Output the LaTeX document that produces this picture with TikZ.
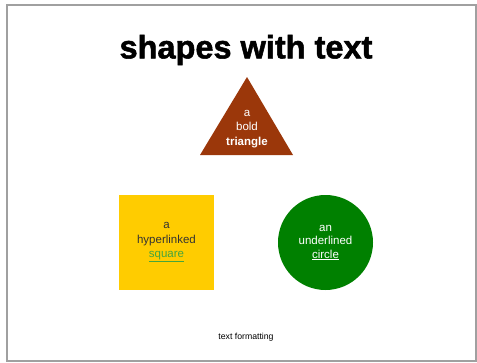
\documentclass[tikz,border=0pt]{standalone}
\usepackage{fontspec}
\setmainfont{Liberation Sans}
\newfontfamily\heavyfont[FakeBold=1.6]{Liberation Sans Bold}
\definecolor{brickbrown}{RGB}{155,55,10}
\definecolor{goldyellow}{RGB}{255,204,0}
\definecolor{darkgreen}{RGB}{0,128,0}
\definecolor{linkgreen}{RGB}{70,165,60}
\definecolor{framegray}{RGB}{160,160,160}

\begin{document}
\begin{tikzpicture}
[
	x=1pt,
	y=-1pt,
	shapetext/.style={align=center,font=\fontsize{11.5}{14.5}\selectfont},
	boxshape/.style={rectangle,fill=goldyellow,minimum size=95pt,inner sep=0pt},
	roundshape/.style={circle,fill=darkgreen,minimum size=95pt,inner sep=0pt}
]

	% page and frame
	\useasboundingbox (0,0) rectangle (477,362);
	\coordinate (frametl) at (7,5);
	\coordinate (framebr) at (476,361);
	\draw[framegray,line width=1.1pt] (frametl) rectangle (framebr);

	% title
	\node[font=\fontsize{32.5}{36}\heavyfont] (title) at (246,50) {shapes with text};

	% triangle
	\coordinate (apex) at (247,77);
	\coordinate (baseleft) at (200,155);
	\coordinate (baseright) at (293,155);
	\fill[brickbrown] (apex) -- (baseright) -- (baseleft) -- cycle;
	\node[shapetext,text=white] (tritext) at (247,129) {a\\bold\\\textbf{triangle}};

	% square
	\node[boxshape] (square) at (166.5,242.5) {};
	\node[shapetext,text=black!80] (sqtext) at (square) {a\\hyperlinked\\\textcolor{linkgreen}{\underline{square}}};

	% circle
	\node[roundshape] (circle) at (325.5,242.5) {};
	\node[shapetext,text=white,font=\fontsize{11.5}{13.5}\selectfont] (circtext) at (circle) {an\\underlined\\\underline{circle}};

	% caption
	\node[font=\fontsize{8.7}{10}\selectfont] (caption) at (246,337) {text formatting};

\end{tikzpicture}
\end{document}
